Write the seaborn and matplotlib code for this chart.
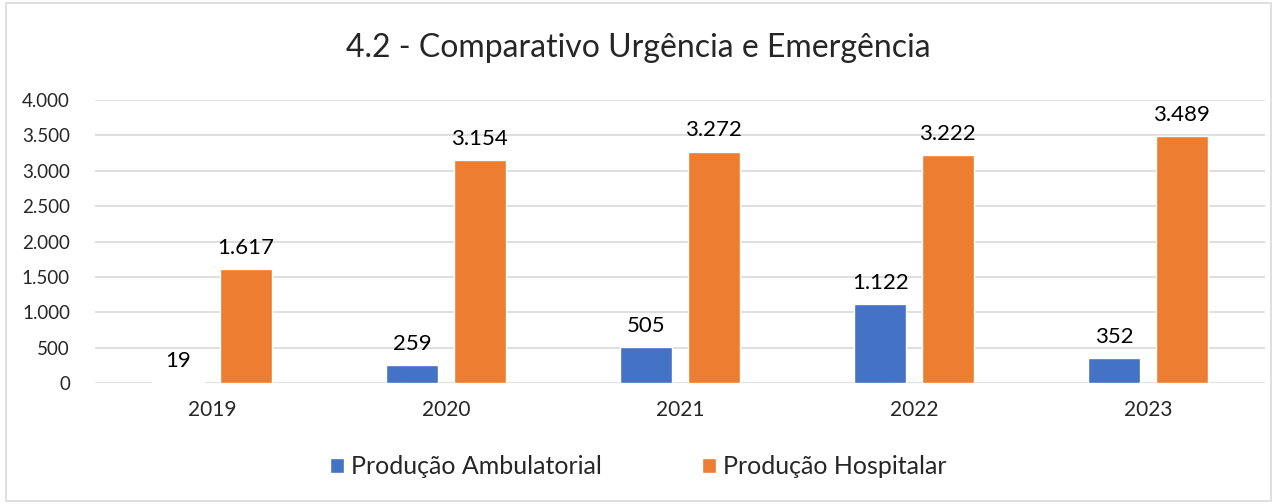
import pandas as pd
import matplotlib.pyplot as plt
import seaborn as sns
from matplotlib.patches import Rectangle

# === Data ===
years = ["2019", "2020", "2021", "2022", "2023"]
ambulatorial = [19, 259, 505, 1122, 352]
hospitalar = [1617, 3154, 3272, 3222, 3489]
series_names = ["Produção Ambulatorial", "Produção Hospitalar"]
title = "4.2 - Comparativo Urgência e Emergência"
yticks = [0, 500, 1000, 1500, 2000, 2500, 3000, 3500, 4000]


def fmt(v):
    return f"{v:,.0f}".replace(",", ".")


def main():
    df = pd.DataFrame({
        "ano": years * 2,
        "valor": ambulatorial + hospitalar,
        "serie": [series_names[0]] * len(years) + [series_names[1]] * len(years),
    })

    sns.set_style("white")
    plt.rcParams["font.family"] = ["Lato", "DejaVu Sans"]

    fig = plt.figure(figsize=(12.77, 5.04), dpi=100)
    ax = fig.add_axes([0.0744, 0.240, 0.9162, 0.5616])

    palette = {series_names[0]: "#4472C4", series_names[1]: "#ED7D31"}
    sns.barplot(
        data=df, x="ano", y="valor", hue="serie", palette=palette,
        width=0.577, gap=0.23, saturation=1, ax=ax, legend=True,
    )

    # value labels above the bars
    for cont in ax.containers:
        ax.bar_label(cont, labels=[fmt(v) for v in cont.datavalues],
                     padding=8, fontsize=16, color="#000000")

    ax.set_ylim(0, 4000)
    ax.set_yticks(yticks)
    ax.set_yticklabels([fmt(v) for v in yticks])
    ax.yaxis.grid(True, color="#d9d9d9", linewidth=1.2)
    ax.set_axisbelow(True)
    for s in ax.spines.values():
        s.set_visible(False)
    ax.tick_params(axis="y", length=0, labelsize=13.5, pad=18)
    ax.tick_params(axis="x", length=0, labelsize=15, pad=12)
    ax.set_xlabel("")
    ax.set_ylabel("")

    fig.suptitle(title, y=0.935, fontsize=23)

    handles, labels = ax.get_legend_handles_labels()
    ax.legend(handles, labels, loc="center", bbox_to_anchor=(0.5, 0.074),
              bbox_transform=fig.transFigure, ncol=2, frameon=False,
              fontsize=18, handlelength=0.55, handleheight=0.55,
              handletextpad=0.3, columnspacing=4.0)

    # outer chart border
    fig.patches.append(Rectangle((0.005, 0.005), 0.99, 0.99, transform=fig.transFigure,
                                 fill=False, edgecolor="#d9d9d9", linewidth=1.2))

    fig.savefig("out.png", dpi=100)


if __name__ == "__main__":
    main()
